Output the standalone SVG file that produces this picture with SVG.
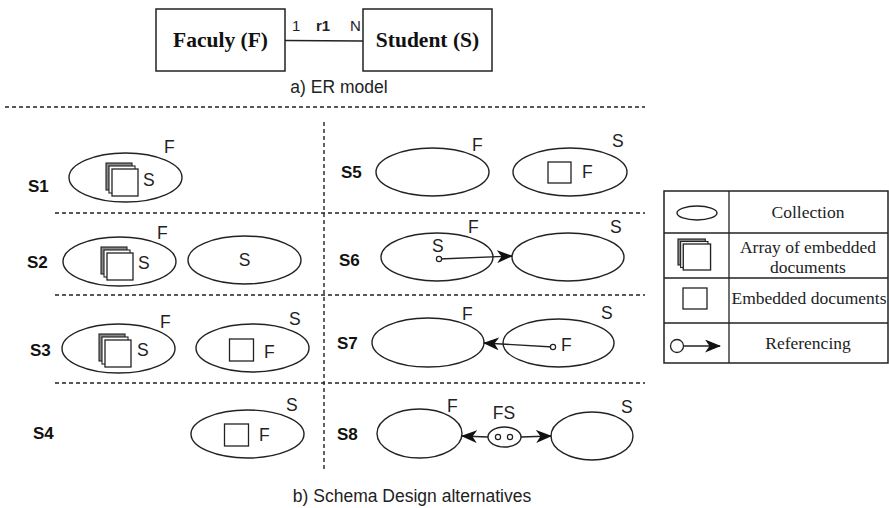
<svg xmlns="http://www.w3.org/2000/svg" width="889" height="508" viewBox="0 0 889 508">
  <style>
    .box { fill: #fff; stroke: #222; stroke-width: 1.5; }
    .coll { fill: #fff; stroke: #222; stroke-width: 1.4; }
    .doc { fill: #fff; stroke: #222; stroke-width: 1.3; }
    .sep { stroke: #222; stroke-width: 1.4; stroke-dasharray: 4 3; fill: none; }
    .line { stroke: #222; stroke-width: 1.3; fill: none; }
    .er { font-family: "Liberation Serif", "Times New Roman", serif; font-weight: bold; font-size: 21.5px; fill: #111; }
    .lbl { font-family: "Liberation Sans", Arial, sans-serif; font-size: 17.5px; fill: #222; }
    .row { font-family: "Liberation Sans", Arial, sans-serif; font-size: 17px; font-weight: bold; fill: #111; }
    .cap { font-family: "Liberation Sans", Arial, sans-serif; font-size: 17.5px; fill: #222; }
    .leg { font-family: "Liberation Serif", "Times New Roman", serif; font-size: 17.5px; fill: #222; text-anchor: middle; }
    .small { font-family: "Liberation Sans", Arial, sans-serif; font-size: 15px; fill: #222; }
  </style>
  <defs>
    <marker id="arrow" viewBox="0 0 16 13" refX="15" refY="6.5" markerWidth="16" markerHeight="13" markerUnits="userSpaceOnUse" orient="auto-start-reverse">
      <path d="M0,0 L16,6.5 L0,13 L4.5,6.5 Z" fill="#111"/>
    </marker>
    <!-- stack of three documents -->
    <g id="docArray">
      <rect x="0" y="0" width="26" height="27" fill="#888" stroke="#222" stroke-width="1.1"/>
      <rect x="3" y="3" width="26" height="27" fill="#fff" stroke="#222" stroke-width="1.1"/>
      <rect x="6" y="6" width="26" height="27" class="doc"/>
    </g>
  </defs>

  <rect width="889" height="508" fill="#fff"/>

  <!-- a) ER model -->
  <g id="er-faculty">
    <rect class="box" x="156" y="9" width="129" height="62"/>
    <text class="er" x="220.5" y="47" text-anchor="middle">Faculy (F)</text>
  </g>
  <g id="er-student">
    <rect class="box" x="363" y="9" width="129" height="62"/>
    <text class="er" x="427.5" y="47" text-anchor="middle">Student (S)</text>
  </g>
  <g id="er-relation">
    <line class="line" x1="285" y1="40.5" x2="363" y2="41"/>
    <text class="small" x="292" y="31">1</text>
    <text class="small" x="316" y="31" font-weight="bold" font-size="16px">r1</text>
    <text class="small" x="350" y="31">N</text>
  </g>
  <text class="cap" x="339" y="93" text-anchor="middle">a) ER model</text>

  <!-- section separators -->
  <g id="separators">
    <line class="sep" x1="5" y1="107" x2="645" y2="107"/>
    <line class="sep" x1="324" y1="122" x2="324" y2="472"/>
    <line class="sep" x1="55" y1="213" x2="645" y2="213"/>
    <line class="sep" x1="55" y1="295" x2="645" y2="295"/>
    <line class="sep" x1="55" y1="383" x2="645" y2="383"/>
  </g>

  <!-- S1 -->
  <g id="s1">
    <text class="row" x="28" y="192">S1</text>
    <ellipse class="coll" cx="125.5" cy="177.5" rx="56.5" ry="24.5"/>
    <use href="#docArray" x="106" y="163"/>
    <text class="lbl" x="143" y="186">S</text>
    <text class="lbl" x="164" y="153">F</text>
  </g>

  <!-- S2 -->
  <g id="s2">
    <text class="row" x="27" y="268">S2</text>
    <ellipse class="coll" cx="119.5" cy="261.5" rx="56.5" ry="24.5"/>
    <use href="#docArray" x="101" y="247"/>
    <text class="lbl" x="138" y="269">S</text>
    <text class="lbl" x="157" y="239">F</text>
    <ellipse class="coll" cx="244.5" cy="260" rx="56.5" ry="24"/>
    <text class="lbl" x="244.5" y="266" text-anchor="middle">S</text>
  </g>

  <!-- S3 -->
  <g id="s3">
    <text class="row" x="30" y="356">S3</text>
    <ellipse class="coll" cx="118.5" cy="348.5" rx="56.5" ry="24.5"/>
    <use href="#docArray" x="99" y="334"/>
    <text class="lbl" x="137" y="356">S</text>
    <text class="lbl" x="160" y="328">F</text>
    <ellipse class="coll" cx="252.5" cy="348" rx="56.5" ry="24"/>
    <rect class="doc" x="229.5" y="339" width="24" height="22"/>
    <text class="lbl" x="264" y="358">F</text>
    <text class="lbl" x="289" y="325">S</text>
  </g>

  <!-- S4 -->
  <g id="s4">
    <text class="row" x="33" y="439">S4</text>
    <ellipse class="coll" cx="247.5" cy="434" rx="56.5" ry="24"/>
    <rect class="doc" x="224.5" y="424" width="24" height="22"/>
    <text class="lbl" x="259" y="441">F</text>
    <text class="lbl" x="286" y="411">S</text>
  </g>

  <!-- S5 -->
  <g id="s5">
    <text class="row" x="341" y="178">S5</text>
    <ellipse class="coll" cx="432.5" cy="172" rx="56.5" ry="24"/>
    <text class="lbl" x="472" y="151">F</text>
    <ellipse class="coll" cx="570" cy="172" rx="57" ry="24"/>
    <rect class="doc" x="548" y="162" width="23" height="21"/>
    <text class="lbl" x="582" y="178">F</text>
    <text class="lbl" x="612" y="147">S</text>
  </g>

  <!-- S6 -->
  <g id="s6">
    <text class="row" x="339" y="266">S6</text>
    <ellipse class="coll" cx="437" cy="257" rx="56" ry="24"/>
    <text class="lbl" x="468" y="233">F</text>
    <text class="lbl" x="432" y="252">S</text>
    <ellipse class="coll" cx="568" cy="257" rx="56" ry="24"/>
    <text class="lbl" x="610" y="233">S</text>
  </g>

  <!-- S7 -->
  <g id="s7">
    <text class="row" x="337" y="349">S7</text>
    <ellipse class="coll" cx="428" cy="342.5" rx="56" ry="24.5"/>
    <text class="lbl" x="462" y="320">F</text>
    <ellipse class="coll" cx="558.5" cy="343" rx="55.5" ry="24"/>
    <text class="lbl" x="561" y="351">F</text>
    <text class="lbl" x="601" y="319">S</text>
  </g>

  <!-- S8 -->
  <g id="s8">
    <text class="row" x="337" y="440">S8</text>
    <ellipse class="coll" cx="419.5" cy="433.5" rx="42.5" ry="24.5"/>
    <text class="lbl" x="447" y="412">F</text>
    <ellipse class="coll" cx="504.5" cy="437" rx="16.5" ry="10"/>
    <text class="lbl" x="504" y="419" text-anchor="middle">FS</text>
    <ellipse class="coll" cx="592" cy="436" rx="41" ry="24"/>
    <text class="lbl" x="621" y="413">S</text>
  </g>

  <!-- references between collections -->
  <g id="connectors">
    <line class="line" x1="439" y1="259" x2="512" y2="256" marker-end="url(#arrow)"/>
    <circle cx="439" cy="259" r="2.6" fill="#fff" stroke="#222" stroke-width="1.2"/>
    <line class="line" x1="553" y1="347" x2="484" y2="343" marker-end="url(#arrow)"/>
    <circle cx="553" cy="347" r="2.6" fill="#fff" stroke="#222" stroke-width="1.2"/>
    <line class="line" x1="488" y1="437" x2="462" y2="436" marker-end="url(#arrow)"/>
    <line class="line" x1="521" y1="437" x2="551" y2="436" marker-end="url(#arrow)"/>
    <circle cx="498" cy="437" r="2.6" fill="#fff" stroke="#222" stroke-width="1.2"/>
    <circle cx="510" cy="437" r="2.6" fill="#fff" stroke="#222" stroke-width="1.2"/>
  </g>

  <text class="cap" x="412" y="502" text-anchor="middle" font-size="18.5px">b) Schema Design alternatives</text>

  <!-- legend table -->
  <g id="legend">
    <rect x="664" y="191" width="224" height="172" fill="#fff" stroke="#222" stroke-width="1.5"/>
    <line class="line" x1="729" y1="191" x2="729" y2="363" stroke-width="1.5"/>
    <line class="line" x1="664" y1="233" x2="888" y2="233" stroke-width="1.5"/>
    <line class="line" x1="664" y1="278" x2="888" y2="278" stroke-width="1.5"/>
    <line class="line" x1="664" y1="323" x2="888" y2="323" stroke-width="1.5"/>
    <g id="legend-collection">
      <ellipse class="coll" cx="697" cy="213" rx="20" ry="7"/>
      <text class="leg" x="808" y="218">Collection</text>
    </g>
    <g id="legend-array">
      <g transform="translate(678,239) scale(1.05,1)">
        <rect x="0" y="0" width="26" height="26" fill="#888" stroke="#222" stroke-width="1.1"/>
        <rect x="2.5" y="2.5" width="26" height="26" fill="#fff" stroke="#222" stroke-width="1.1"/>
        <rect x="5" y="5" width="26" height="26" class="doc"/>
      </g>
      <text class="leg" x="808" y="253">Array of embedded</text>
      <text class="leg" x="808" y="273">documents</text>
    </g>
    <g id="legend-embedded">
      <rect class="doc" x="683" y="288" width="24" height="21"/>
      <text class="leg" x="809" y="304">Embedded documents</text>
    </g>
    <g id="legend-reference">
      <circle cx="677" cy="346" r="6.5" fill="#fff" stroke="#222" stroke-width="1.3"/>
      <line class="line" x1="683.5" y1="346" x2="720" y2="346" marker-end="url(#arrow)"/>
      <text class="leg" x="808" y="349">Referencing</text>
    </g>
  </g>
</svg>
